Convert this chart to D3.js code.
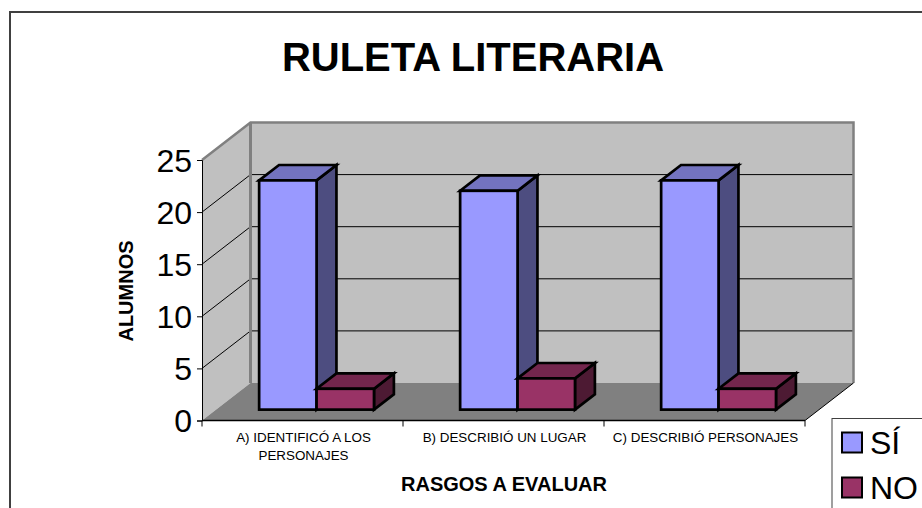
<!DOCTYPE html>
<html><head><meta charset="utf-8">
<script src="https://cdn.jsdelivr.net/npm/d3@7"></script>
<style>html,body{margin:0;padding:0;background:#fff;overflow:hidden}svg{display:block}text{font-family:"Liberation Sans",Arial,sans-serif;fill:#000}</style>
</head><body><div id="c"></div>
<script>
const titleText = "RULETA LITERARIA";
const yTitle = "ALUMNOS";
const xTitle = "RASGOS A EVALUAR";
const categories = [["A) IDENTIFICÓ A LOS","PERSONAJES"],["B) DESCRIBIÓ UN LUGAR"],["C) DESCRIBIÓ PERSONAJES"]];
const seriesNames = ["SÍ","NO"];
const siValues = [22,21,22];
const noValues = [2,3,2];
const yTicks = [0,5,10,15,20,25];
const faceColors = ["#9999ff","#993366"];
const topColors = ["#7373bf","#73264d"];
const sideColors = ["#4d4d80","#4d1a33"];

const W=922,H=508;
const svg=d3.select("#c").append("svg").attr("width",W).attr("height",H);
svg.append("rect").attr("x",10).attr("y",12).attr("width",W+20).attr("height",H+20).attr("fill","#fff").attr("stroke","#404040").attr("stroke-width",2);

const x0=202,x1=805,yB=420.5,yT=160,dX=48.5,dY=-37.5;
const y=d3.scaleLinear().domain([0,25]).range([yB,yT]);
const idx=categories.map((d,i)=>i);
const xCat=d3.scaleBand().domain(idx).range([x0,x1]);
const xSer=d3.scaleBand().domain([0,1]).range([0,xCat.bandwidth()]).paddingOuter(0.75).paddingInner(0);
const pts=a=>a.map(p=>p.join(",")).join(" ");

// walls
svg.append("polygon").attr("points",pts([[x0,yB],[x0+dX,yB+dY],[x0+dX,yT+dY],[x0,yT]])).attr("fill","#c0c0c0");
svg.append("polygon").attr("points",pts([[x0+dX,yB+dY],[x1+dX,yB+dY],[x1+dX,yT+dY],[x0+dX,yT+dY]])).attr("fill","#c0c0c0");
svg.append("polygon").attr("points",pts([[x0,yB],[x1,yB],[x1+dX,yB+dY],[x0+dX,yB+dY]])).attr("fill","#808080");
// grid
yTicks.filter(t=>t>0&&t<25).forEach(t=>{
  svg.append("polyline").attr("fill","none").attr("stroke","#000").attr("stroke-width",1)
    .attr("points",pts([[x0,y(t)],[x0+dX,y(t)+dY],[x1+dX,y(t)+dY]]));
});
// wall outlines
svg.append("polyline").attr("fill","none").attr("stroke","#808080").attr("stroke-width",2.5)
  .attr("points",pts([[x0,yT],[x0+dX,yT+dY],[x1+dX,yT+dY],[x1+dX,yB+dY]]));
svg.append("line").attr("x1",x0+dX).attr("x2",x0+dX).attr("y1",yT+dY).attr("y2",yB+dY).attr("stroke","#808080").attr("stroke-width",3);
svg.append("line").attr("x1",x1).attr("x2",x1+dX).attr("y1",yB).attr("y2",yB+dY).attr("stroke","#000").attr("stroke-width",1);

// axes
const yAxis=d3.axisLeft(y).tickValues(yTicks).tickSize(5).tickPadding(5);
const gy=svg.append("g").attr("transform",`translate(${x0},0)`).call(yAxis);
gy.select(".domain").attr("stroke","#000");
gy.selectAll("text").style("font-size","32px").attr("dy","0.35em");
const edges=[0,1,2,3];
svg.selectAll(".xt").data(edges).enter().append("line").attr("class","xt")
  .attr("x1",d=>x0+d*xCat.bandwidth()).attr("x2",d=>x0+d*xCat.bandwidth())
  .attr("y1",yB).attr("y2",yB+6).attr("stroke","#000");
svg.append("line").attr("x1",x0).attr("x2",x1).attr("y1",yB).attr("y2",yB).attr("stroke","#000").attr("stroke-width",1.5);

// bars
const frac=0.29,depth=0.41;
const allVals=[siValues,noValues];
idx.forEach(i=>{
  [0,1].forEach(s=>{
    const v=allVals[s][i];
    const left=xCat(i)+xSer(s)+dX*frac, w=xSer.bandwidth();
    const b=y(0)+dY*frac, t=y(v)+dY*frac;
    const ox=dX*depth, oy=dY*depth;
    const g=svg.append("g").attr("stroke","#000").attr("stroke-width",2.7).attr("stroke-linejoin","miter");
    g.append("polygon").attr("points",pts([[left+w,b],[left+w+ox,b+oy],[left+w+ox,t+oy],[left+w,t]])).attr("fill",sideColors[s]);
    g.append("polygon").attr("points",pts([[left,t],[left+ox,t+oy],[left+w+ox,t+oy],[left+w,t]])).attr("fill",topColors[s]);
    g.append("rect").attr("x",left).attr("y",t).attr("width",w).attr("height",b-t).attr("fill",faceColors[s]);
  });
});

// category labels
categories.forEach((c,i)=>{
  const tx=svg.append("text").attr("text-anchor","middle").style("font-size","13.4px");
  c.forEach((l,k)=>tx.append("tspan").attr("x",xCat(i)+xCat.bandwidth()/2+1).attr("y",442+k*18).text(l));
});
svg.append("text").attr("x",473).attr("y",71).attr("text-anchor","middle").style("font-size","40px").style("font-weight","bold").text(titleText);
svg.append("text").attr("x",504).attr("y",491).attr("text-anchor","middle").style("font-size","20px").style("font-weight","bold").text(xTitle);
svg.append("text").attr("transform","translate(132.5,291) rotate(-90)").attr("text-anchor","middle").style("font-size","20px").style("font-weight","bold").text(yTitle);

// legend
svg.append("rect").attr("x",832).attr("y",418.5).attr("width",120).attr("height",120).attr("fill","#fff").attr("stroke","#404040").attr("stroke-width",1);
seriesNames.forEach((n,i)=>{
  const ly=442.5+i*45;
  svg.append("rect").attr("x",842).attr("y",ly-10).attr("width",20).attr("height",20).attr("fill",faceColors[i]).attr("stroke","#000").attr("stroke-width",2);
  svg.append("text").attr("x",870).attr("y",ly+11.5).style("font-size","32px").text(n);
});
</script></body></html>
